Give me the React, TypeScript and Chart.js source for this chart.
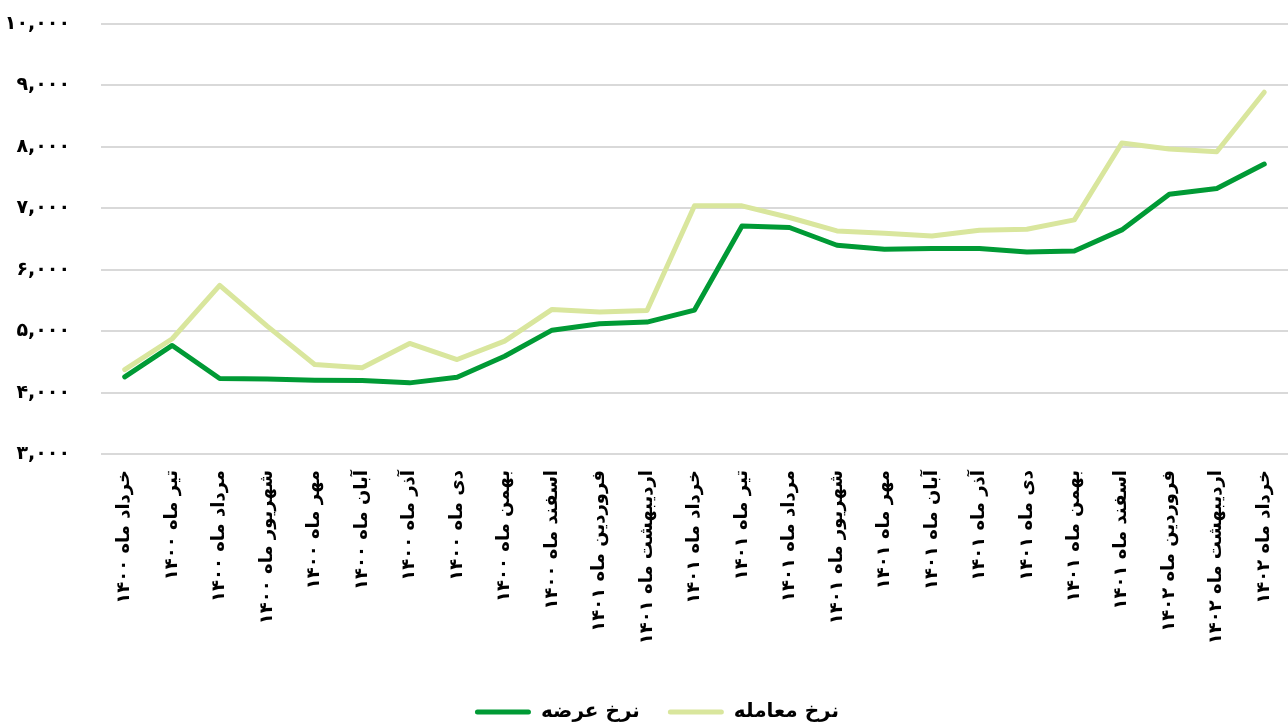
import React, { useEffect, useRef } from "react";
import { Chart, registerables } from "chart.js";

Chart.register(...registerables);

// Monthly categories (Persian calendar)
const months: string[] = [
  "خرداد ماه ۱۴۰۰",
  "تیر ماه ۱۴۰۰",
  "مرداد ماه ۱۴۰۰",
  "شهریور ماه ۱۴۰۰",
  "مهر ماه ۱۴۰۰",
  "آبان ماه ۱۴۰۰",
  "آذر ماه ۱۴۰۰",
  "دی ماه ۱۴۰۰",
  "بهمن ماه ۱۴۰۰",
  "اسفند ماه ۱۴۰۰",
  "فروردین ماه ۱۴۰۱",
  "اردیبهشت ماه ۱۴۰۱",
  "خرداد ماه ۱۴۰۱",
  "تیر ماه ۱۴۰۱",
  "مرداد ماه ۱۴۰۱",
  "شهریور ماه ۱۴۰۱",
  "مهر ماه ۱۴۰۱",
  "آبان ماه ۱۴۰۱",
  "آذر ماه ۱۴۰۱",
  "دی ماه ۱۴۰۱",
  "بهمن ماه ۱۴۰۱",
  "اسفند ماه ۱۴۰۱",
  "فروردین ماه ۱۴۰۲",
  "اردیبهشت ماه ۱۴۰۲",
  "خرداد ماه ۱۴۰۲",
];

// Offer rate
const supplyRate: number[] = [
  4256, 4767, 4228, 4222, 4200, 4195, 4158, 4250, 4592, 5016, 5121, 5147, 5343,
  6713, 6687, 6398, 6334, 6344, 6344, 6289, 6305, 6648, 7230, 7323, 7720,
];

// Transaction rate
const tradeRate: number[] = [
  4375, 4876, 5745, 5082, 4457, 4403, 4800, 4538, 4837, 5354, 5310, 5337, 7040,
  7040, 6850, 6632, 6594, 6550, 6643, 6659, 6811, 8062, 7964, 7920, 8889,
];

const seriesNames: string[] = ["نرخ عرضه", "نرخ معامله"];

// Y axis tick values and their Persian labels
const yTickValues: number[] = [3000, 4000, 5000, 6000, 7000, 8000, 9000, 10000];
const yTickLabels: string[] = [
  "۳,۰۰۰",
  "۴,۰۰۰",
  "۵,۰۰۰",
  "۶,۰۰۰",
  "۷,۰۰۰",
  "۸,۰۰۰",
  "۹,۰۰۰",
  "۱۰,۰۰۰",
];

const DARK = "#009a35";
const LIGHT = "#d9e69d";
const FONT = "'DejaVu Sans', 'Noto Sans', sans-serif";

// Nudges the legend row a little to the right of the canvas centre
const legendOffset = {
  id: "legendOffset",
  afterLayout(chart: any) {
    const lg = chart.legend;
    if (lg) {
      lg.left += 13;
      lg.right += 13;
    }
  },
};

export default function App() {
  const canvasRef = useRef<HTMLCanvasElement | null>(null);

  useEffect(() => {
    const canvas = canvasRef.current;
    if (!canvas) return;
    const chart = new Chart(canvas, {
      type: "line",
      data: {
        labels: months,
        datasets: [
          {
            label: seriesNames[0],
            data: supplyRate,
            borderColor: DARK,
            backgroundColor: DARK,
            borderWidth: 5,
            pointRadius: 0,
            tension: 0,
            borderCapStyle: "round",
            borderJoinStyle: "round",
          },
          {
            label: seriesNames[1],
            data: tradeRate,
            borderColor: LIGHT,
            backgroundColor: LIGHT,
            borderWidth: 5,
            pointRadius: 0,
            tension: 0,
            borderCapStyle: "round",
            borderJoinStyle: "round",
          },
        ],
      },
      plugins: [legendOffset],
      options: {
        responsive: false,
        animation: false,
        events: [],
        layout: { padding: { top: 24, left: 0, right: 0, bottom: -8 } },
        plugins: {
          tooltip: { enabled: false },
          legend: {
            position: "bottom",
            labels: {
              boxWidth: 56,
              boxHeight: 5,
              useBorderRadius: true,
              borderRadius: 2.5,
              padding: 28,
              color: "#000",
              font: { family: FONT, size: 20, weight: "bold" },
              generateLabels: (c: any) =>
                Chart.defaults.plugins.legend.labels
                  .generateLabels(c)
                  .map((l: any) => ({ ...l, lineWidth: 0 })),
            },
          },
        },
        scales: {
          x: {
            offset: true,
            grid: {
              display: true,
              drawOnChartArea: false,
              drawTicks: true,
              tickLength: 14,
              color: "transparent",
              tickColor: "transparent",
            },
            border: { display: false },
            ticks: {
              autoSkip: false,
              minRotation: 90,
              maxRotation: 90,
              padding: 2,
              color: "#000",
              font: { family: FONT, size: 18, weight: "bold" },
            },
            afterFit: (s: any) => {
              s.height = 220;
            },
          },
          y: {
            min: 3000,
            max: 10000,
            afterBuildTicks: (s: any) => {
              s.ticks = yTickValues.map((v) => ({ value: v }));
            },
            grid: {
              color: "#d9d9d9",
              lineWidth: 2,
              drawTicks: true,
              tickLength: 29,
              tickColor: "transparent",
            },
            border: { display: false },
            ticks: {
              padding: 2,
              color: "#000",
              font: { family: FONT, size: 19, weight: "bold" },
              callback: (v: any) => {
                const i = yTickValues.indexOf(Number(v));
                return i >= 0 ? yTickLabels[i] : "";
              },
            },
            afterFit: (s: any) => {
              s.width = 101;
            },
          },
        },
      },
    });
    return () => chart.destroy();
  }, []);

  return (
    <div
      style={{
        position: "fixed",
        left: 0,
        top: 0,
        width: 1288,
        height: 724,
        background: "#fff",
      }}
    >
      <canvas ref={canvasRef} width={1288} height={724} />
    </div>
  );
}
